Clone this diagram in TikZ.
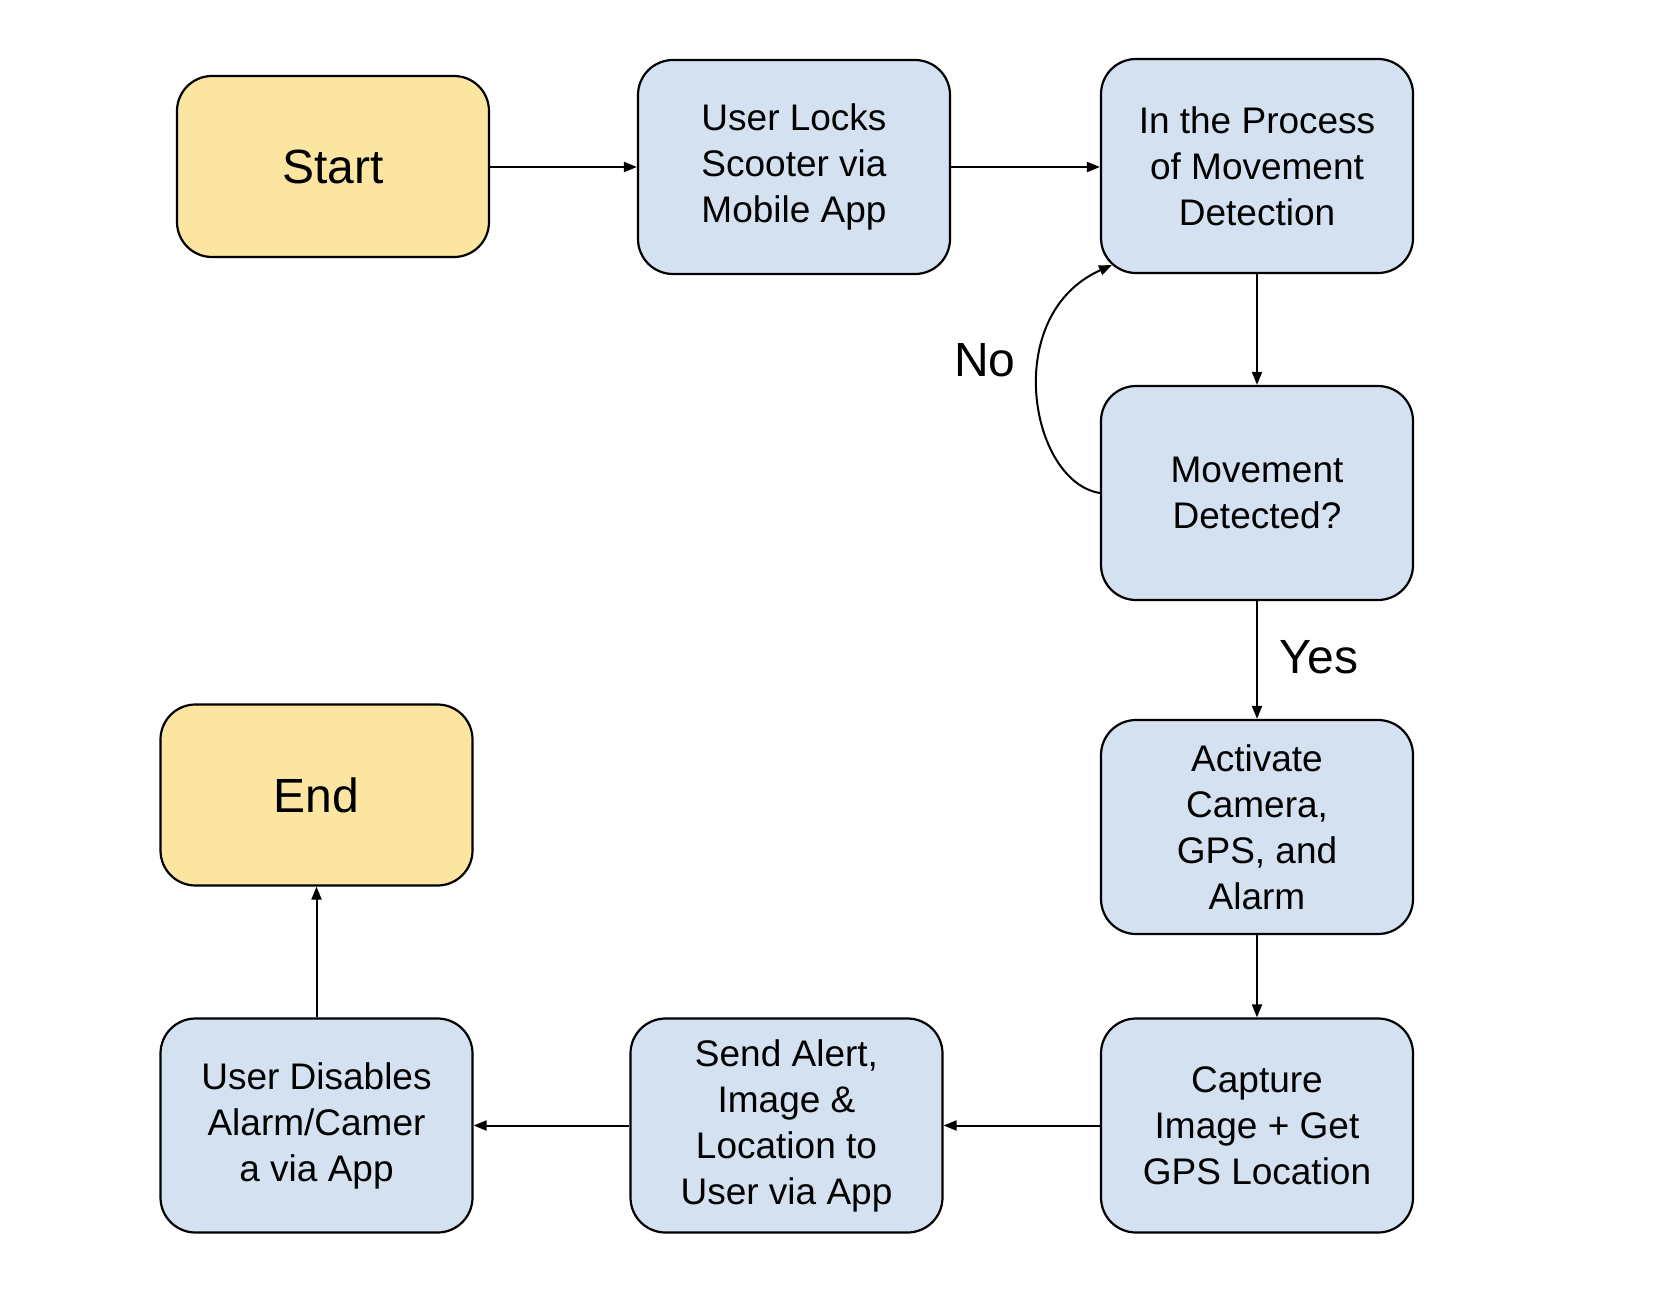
\documentclass[tikz,border=0pt]{standalone}
\usepackage{fontspec}
\setmainfont{Liberation Sans}
\usetikzlibrary{arrows.meta}
\definecolor{boxblue}{HTML}{D4E1F1}
\definecolor{boxyellow}{HTML}{FBE5A1}
\tikzset{
  proc/.style={draw=black, line width=2.2pt, fill=boxblue, rounded corners=35pt,
    minimum width=312pt, minimum height=214pt, align=center, inner sep=0pt,
    font=\fontsize{37}{46}\selectfont},
  term/.style={proc, fill=boxyellow, minimum height=181pt, font=\fontsize{48}{56}\selectfont},
  lbl/.style={font=\fontsize{48}{56}\selectfont, inner sep=0pt},
  conn/.style={line width=2pt, -{Triangle[length=13pt, width=10pt]}}
}
\begin{document}
\begin{tikzpicture}[x=1pt, y=-1pt]
\useasboundingbox (0,0) rectangle (1654,1314);
\node[term] (start) at (333,166.5) {Start};
\node[proc] (lock) at (794,167) {User Locks\\Scooter via\\Mobile App};
\node[proc] (proc) at (1257,166) {In the Process\\of Movement\\Detection};
\node[proc] (mov) at (1257,493) {Movement\\Detected?};
\node[proc] (act) at (1257,827) {Activate\\Camera,\\GPS, and\\Alarm};
\node[proc] (cap) at (1257,1125.5) {Capture\\Image + Get\\GPS Location};
\node[proc] (send) at (786.5,1125.5) {Send Alert,\\Image \&\\Location to\\User via App};
\node[proc] (dis) at (316.5,1125.5) {User Disables\\Alarm/Camer\\a via App};
\node[term] (end) at (316.5,795) {End};
\coordinate (noend) at (1112,265);
\node[lbl] (no) at (985,360) {No};
\node[lbl] (yes) at (1319,657) {Yes};
\draw[conn] (start.east |- 0,167) -- (lock.west |- 0,167);
\draw[conn] (lock.east |- 0,167) -- (proc.west |- 0,167);
\draw[conn] (proc) -- (mov);
\draw[conn] (mov) -- (act);
\draw[conn] (act) -- (cap);
\draw[conn] (cap) -- (send);
\draw[conn] (send) -- (dis);
\draw[conn] (dis) -- (end);
\draw[conn] (mov.west) .. controls (1030,482) and (1000,315) .. (noend);
\end{tikzpicture}
\end{document}
